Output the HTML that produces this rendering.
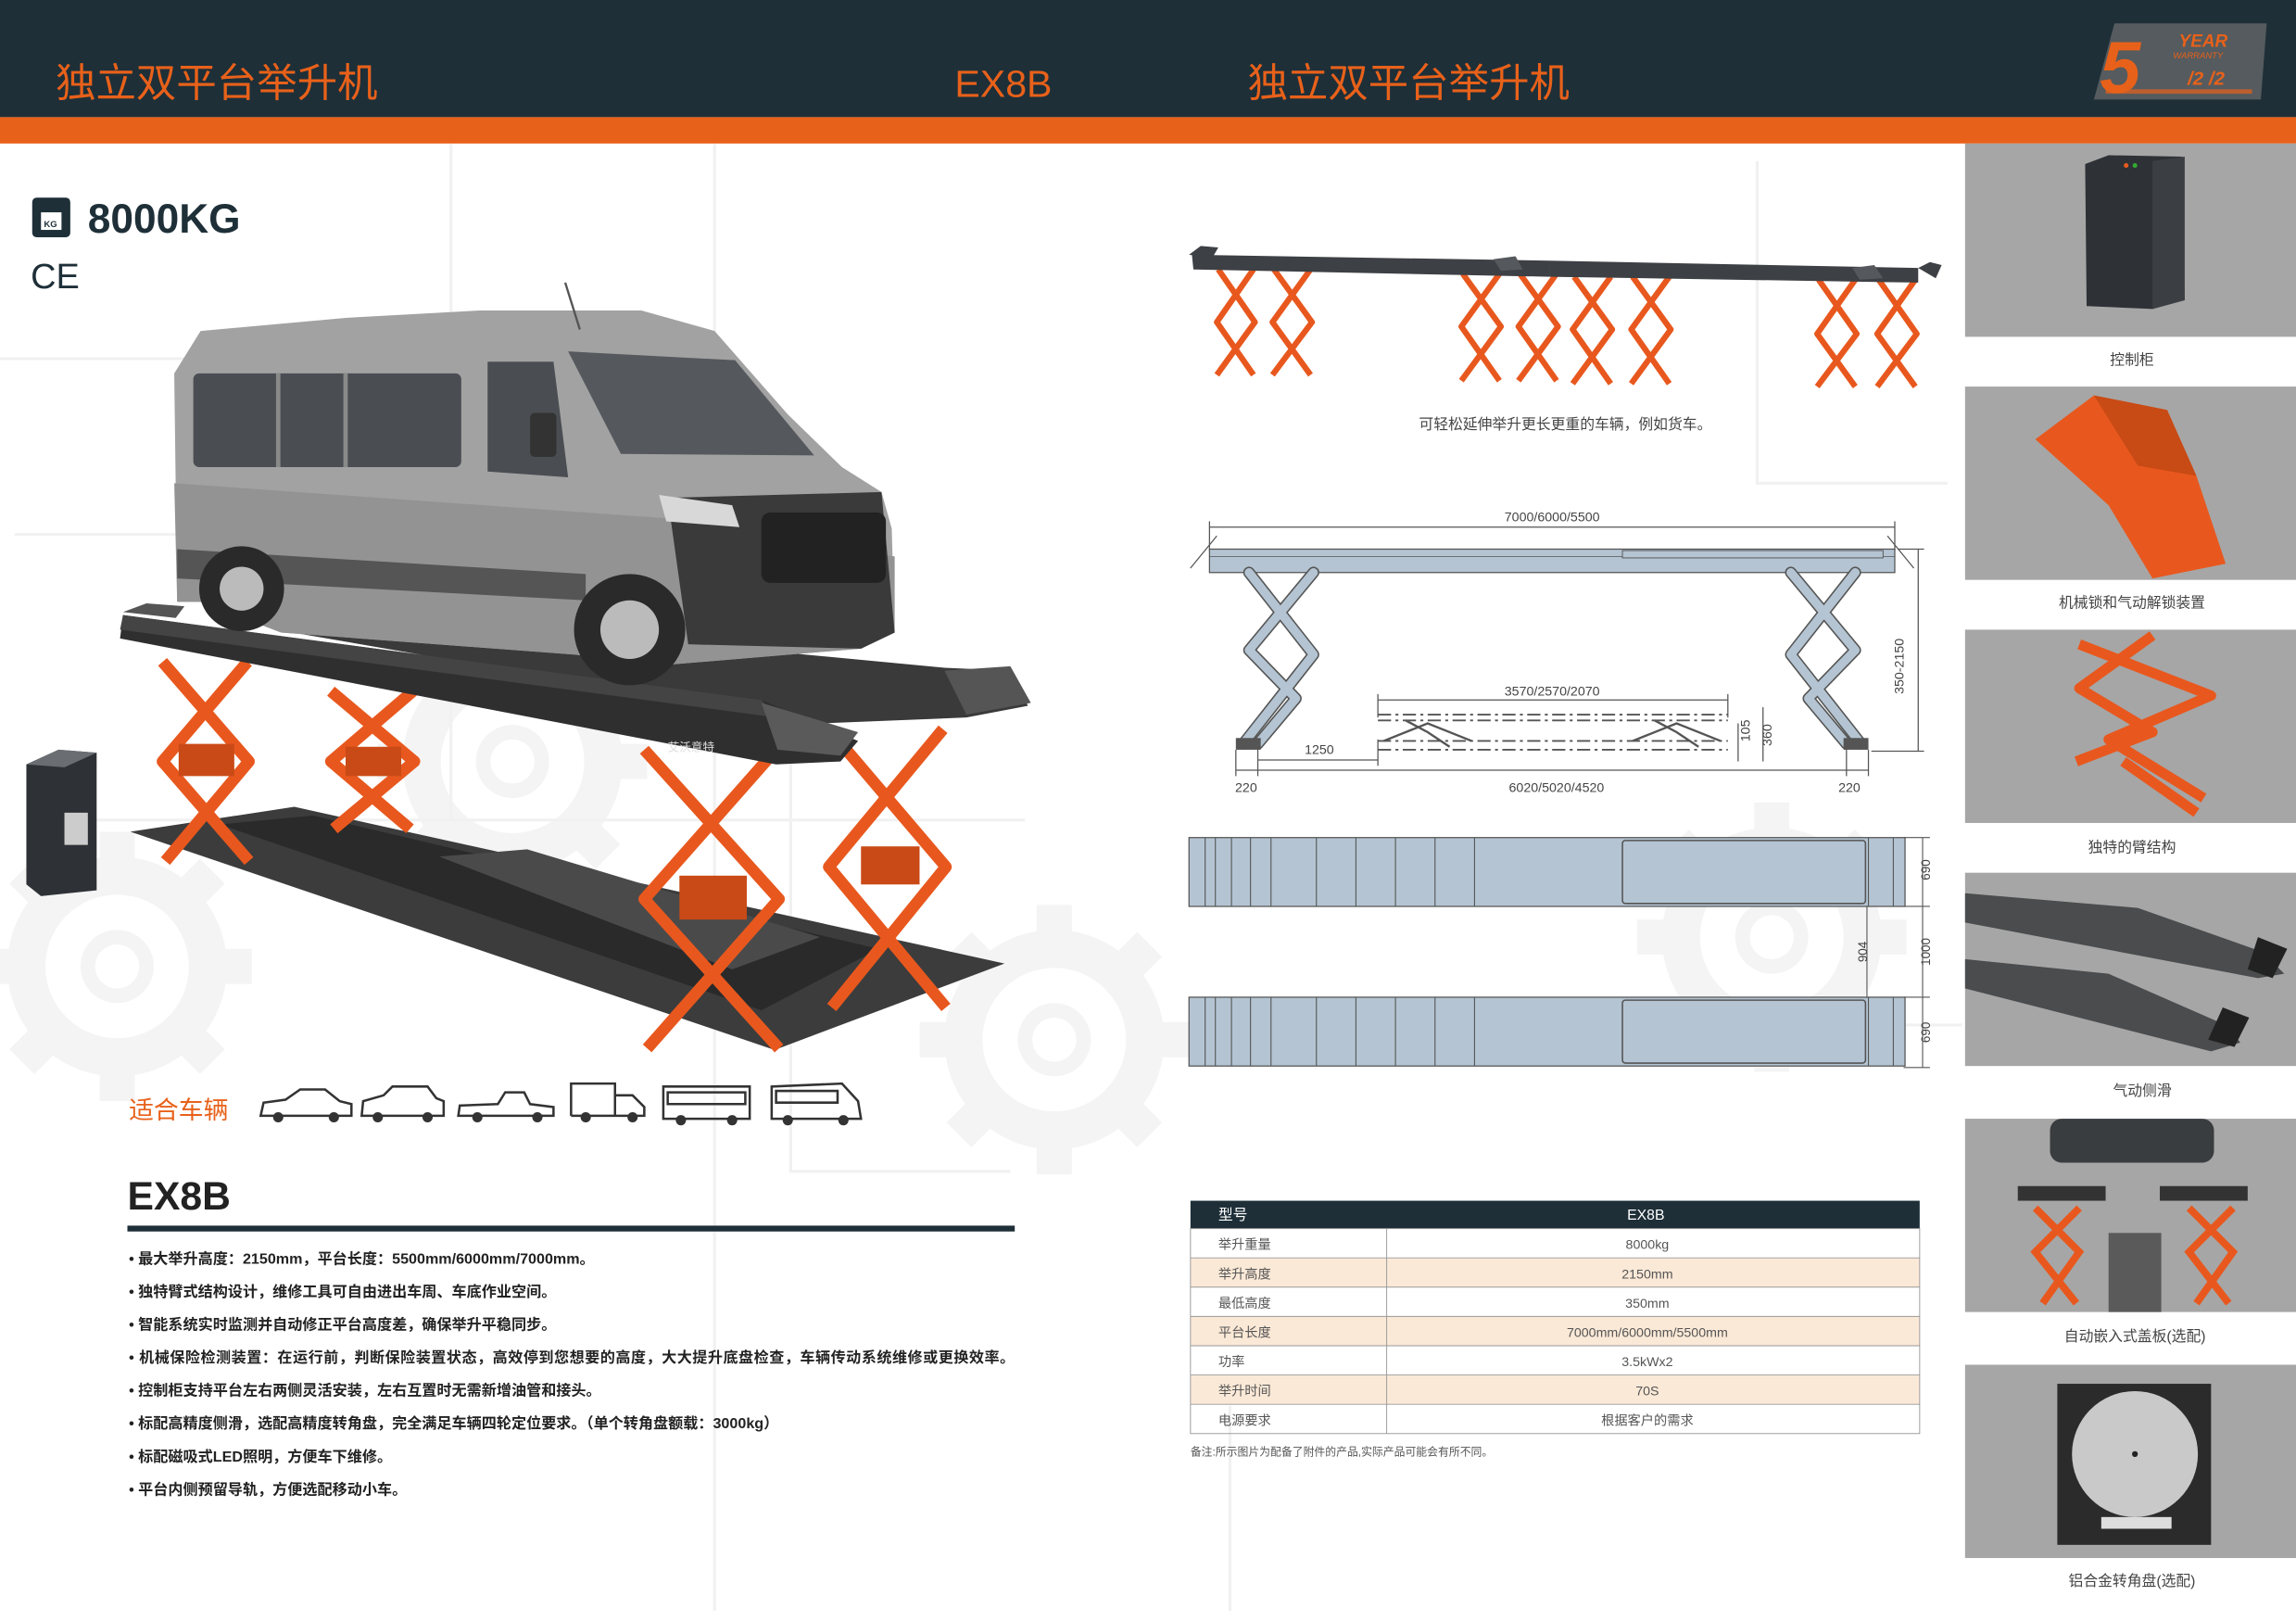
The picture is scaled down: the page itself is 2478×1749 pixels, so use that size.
<!DOCTYPE html>
<html><head><meta charset="utf-8">
<style>
html,body{margin:0;padding:0;background:#fff;}
svg{display:block;}
text{font-family:"Liberation Sans","Noto Sans CJK SC",sans-serif;}
</style></head>
<body>
<svg width="2478" height="1749" viewBox="0 0 1568 1107" preserveAspectRatio="none" xmlns="http://www.w3.org/2000/svg">
<defs>
<g id="gear">
<circle r="62" fill="none" stroke="#f4f4f4" stroke-width="26"/>
<g fill="#f4f4f4">
<rect x="-12" y="-92" width="24" height="26"/><rect x="-12" y="66" width="24" height="26"/>
<rect x="-92" y="-12" width="26" height="24"/><rect x="66" y="-12" width="26" height="24"/>
<rect x="-12" y="-92" width="24" height="26" transform="rotate(45)"/><rect x="-12" y="66" width="24" height="26" transform="rotate(45)"/>
<rect x="-92" y="-12" width="26" height="24" transform="rotate(45)"/><rect x="66" y="-12" width="26" height="24" transform="rotate(45)"/>
</g>
<circle r="20" fill="none" stroke="#f4f4f4" stroke-width="10"/>
</g>
</defs>

<rect width="1568" height="1107" fill="#fff"/>
<use href="#gear" x="80" y="660"/>
<use href="#gear" x="720" y="710"/>
<use href="#gear" x="1210" y="640"/>
<use href="#gear" x="350" y="520"/>
<g stroke="#f1f1f1" stroke-width="2" fill="none">
<path d="M0 245 H140 M10 365 H560 M20 560 H700 M308 98 V560 M488 98 V1100 M540 500 V800 H690 M840 960 V1100 M1080 700 H1340 M1200 110 V330 H1330"/>
</g>

<!-- header -->
<rect x="0" y="0" width="1568" height="80" fill="#1e2f38"/>
<rect x="0" y="80" width="1568" height="18" fill="#e8611a"/>
<text x="38" y="66" font-size="27.5" fill="#e8611a">独立双平台举升机</text>
<text x="652" y="66" font-size="26" fill="#e8611a">EX8B</text>
<text x="852" y="66" font-size="27.5" fill="#e8611a">独立双平台举升机</text>
<polygon points="1444,16 1548,16 1544,68 1430,68" fill="#555b5e"/>
<text x="1434" y="63" font-size="50" font-weight="bold" font-style="italic" fill="#e8611a">5</text>
<text x="1488" y="32" font-size="12" font-weight="bold" font-style="italic" fill="#e8611a">YEAR</text>
<text x="1484" y="40" font-size="6" font-style="italic" fill="#e8611a">WARRANTY</text>
<text x="1494" y="58" font-size="13" font-weight="bold" font-style="italic" fill="#e8611a">/2 /2</text>
<rect x="1438" y="61" width="100" height="3" fill="#e8611a" opacity="0.7"/>

<!-- 8000KG -->
<rect x="22" y="135" width="26" height="27" rx="3" fill="#1e2f38"/>
<rect x="28" y="145" width="14" height="12" fill="#fff"/>
<text x="30" y="155" font-size="6" fill="#1e2f38" font-weight="bold">KG</text>
<text x="60" y="159" font-size="28" font-weight="bold" fill="#1e2f38">8000KG</text>
<text x="21" y="197" font-size="24" fill="#1e2f38">CE</text>

<!-- floor pits -->
<polygon points="89,568 201,551 686,658 529,717" fill="#3c3c3c"/>
<polygon points="150,563 214,557 600,648 520,690" fill="#2a2a2a"/>
<polygon points="300,585 360,580 560,640 500,662" fill="#4a4a4a"/>

<!-- far platform -->
<polygon points="200,414 645,456 690,458 702,482 660,490 560,494 200,432" fill="#3a3a3a"/>
<polygon points="645,458 690,455 704,480 660,488" fill="#555"/>
<g fill="none" stroke="#e8581e" stroke-width="8" stroke-linejoin="round">
<polyline points="226,472 283,520 228,566"/><polyline points="282,472 226,520 280,566"/>
<polyline points="566,498 646,592 568,688"/><polyline points="644,498 566,592 646,688"/>
<polyline points="111,452 170,520 113,588"/><polyline points="169,452 111,520 170,588"/>
<polyline points="440,512 532,614 442,716"/><polyline points="530,512 440,614 532,716"/>
</g>
<g fill="#c94a16">
<rect x="236" y="510" width="38" height="20"/><rect x="588" y="578" width="40" height="26"/>
<rect x="122" y="508" width="38" height="22"/><rect x="464" y="598" width="46" height="30"/>
</g>
<polygon points="84,420 520,478 586,506 574,520 530,522 82,436" fill="#2f2f2f"/>
<polygon points="84,420 520,478 530,490 82,430" fill="#444"/>
<polygon points="520,480 586,500 574,516 531,512" fill="#5a5a5a"/>
<polygon points="84,418 100,412 126,414 120,422" fill="#555"/>
<text x="456" y="513" font-size="8" fill="#ddd">艾沃意特</text>

<!-- van -->
<polygon points="121,411 119,255 137,226 237,217 328,212 438,212 488,226 538,283 575,319 602,336 609,361 611,432 588,443 456,454 392,447 192,432 137,411" fill="#a2a2a2"/>
<polygon points="119,330 456,354 611,380 611,432 588,443 456,454 392,447 192,432 137,411 121,411" fill="#939393"/>
<rect x="132" y="255" width="183" height="64" rx="4" fill="#4a4e52"/>
<g stroke="#8a8a8a" stroke-width="3"><line x1="190" y1="255" x2="190" y2="319"/><line x1="236" y1="255" x2="236" y2="319"/></g>
<polygon points="333,247 378,247 388,326 333,322" fill="#4a4e52"/>
<polygon points="388,240 502,246 556,311 424,310" fill="#55595d"/>
<polygon points="456,340 602,336 611,432 588,443 470,440" fill="#3a3a3a"/>
<rect x="520" y="350" width="85" height="48" rx="6" fill="#222"/>
<polygon points="450,338 500,345 505,360 455,356" fill="#d8d8d8"/>
<polygon points="121,375 400,392 400,410 121,395" fill="#555"/>
<rect x="362" y="282" width="18" height="30" rx="3" fill="#333"/>
<line x1="386" y1="193" x2="396" y2="225" stroke="#555" stroke-width="1.5"/>
<circle cx="165" cy="402" r="29" fill="#2a2a2a"/><circle cx="165" cy="402" r="15" fill="#bbb"/>
<circle cx="430" cy="430" r="38" fill="#2a2a2a"/><circle cx="430" cy="430" r="20" fill="#bbb"/>

<!-- control cabinet -->
<polygon points="18,522 40,512 66,514 66,608 28,612 18,604" fill="#2e3236"/>
<polygon points="18,522 40,512 66,514 44,524" fill="#6a6e72"/>
<rect x="44" y="555" width="16" height="22" fill="#ccc"/>

<text x="88" y="764" font-size="17" fill="#e8611a">适合车辆</text>
<g fill="none" stroke="#333" stroke-width="1.6">
<path d="M178 762 L180 753 L195 751 L205 744 L222 744 L232 752 L240 754 L240 762 Z"/>
<path d="M247 762 L248 752 L262 748 L268 742 L292 742 L298 750 L303 752 L303 762 Z"/>
<path d="M313 762 L314 755 L340 754 L345 746 L358 746 L362 754 L378 756 L378 762 Z"/>
<path d="M390 762 L390 740 L420 740 L420 762 M420 748 L432 748 L440 756 L440 762 L390 762"/>
<path d="M453 764 L453 742 L512 742 L512 764 Z M456 746 H509 V754 H456 Z"/>
<path d="M527 764 L527 742 L575 740 L586 752 L588 764 Z M530 745 H572 V753 H530 Z"/>
</g>
<g fill="#333">
<circle cx="190" cy="763" r="3.5"/><circle cx="228" cy="763" r="3.5"/>
<circle cx="258" cy="763" r="3.5"/><circle cx="292" cy="763" r="3.5"/>
<circle cx="326" cy="763" r="3.5"/><circle cx="367" cy="763" r="3.5"/>
<circle cx="400" cy="763" r="3.5"/><circle cx="432" cy="763" r="3.5"/>
<circle cx="465" cy="765" r="3.5"/><circle cx="500" cy="765" r="3.5"/>
<circle cx="538" cy="765" r="3.5"/><circle cx="576" cy="765" r="3.5"/>
</g>

<text x="87" y="826" font-size="27" font-weight="bold" fill="#222">EX8B</text>
<rect x="87" y="837" width="606" height="4" fill="#1e2f38"/>
<g font-size="10.2" fill="#222" font-weight="bold">
<text x="88" y="863">• 最大举升高度：2150mm，平台长度：5500mm/6000mm/7000mm。</text>
<text x="88" y="885.5">• 独特臂式结构设计，维修工具可自由进出车周、车底作业空间。</text>
<text x="88" y="908">• 智能系统实时监测并自动修正平台高度差，确保举升平稳同步。</text>
<text x="88" y="930.5" textLength="605">• 机械保险检测装置：在运行前，判断保险装置状态，高效停到您想要的高度，大大提升底盘检查，车辆传动系统维修或更换效率。</text>
<text x="88" y="953">• 控制柜支持平台左右两侧灵活安装，左右互置时无需新增油管和接头。</text>
<text x="88" y="975.5">• 标配高精度侧滑，选配高精度转角盘，完全满足车辆四轮定位要求。（单个转角盘额载：3000kg）</text>
<text x="88" y="998">• 标配磁吸式LED照明，方便车下维修。</text>
<text x="88" y="1020.5">• 平台内侧预留导轨，方便选配移动小车。</text>
</g>

<!-- top-right extension diagram -->
<g fill="none" stroke="#e8581e" stroke-width="4" stroke-linejoin="round">
<polyline points="832,184 857,220 831,256"/><polyline points="856,184 831,220 856,256"/>
<polyline points="870,184 896,220 869,256"/><polyline points="895,184 869,220 895,256"/>
<polyline points="999,187 1025,223 998,260"/><polyline points="1024,187 998,223 1024,260"/>
<polyline points="1038,187 1064,223 1037,260"/><polyline points="1063,187 1037,223 1063,260"/>
<polyline points="1075,189 1101,225 1074,262"/><polyline points="1100,189 1074,225 1100,262"/>
<polyline points="1115,189 1141,225 1114,262"/><polyline points="1140,189 1114,225 1140,262"/>
<polyline points="1242,191 1268,228 1241,264"/><polyline points="1267,191 1241,228 1267,264"/>
<polyline points="1283,191 1309,228 1282,264"/><polyline points="1308,191 1282,228 1308,264"/>
</g>
<polygon points="814,174 1058,178 1058,189 815,184" fill="#3d4044"/>
<polygon points="1058,178 1310,183 1310,193 1058,189" fill="#3d4044"/>
<polygon points="812,174 820,168 832,169 828,176" fill="#3d4044"/>
<polygon points="1310,183 1318,179 1326,181 1322,190" fill="#3d4044"/>
<polygon points="1020,177 1035,175 1040,184 1025,185" fill="#55595d"/>
<polygon points="1265,183 1280,181 1286,190 1270,191" fill="#55595d"/>
<text x="1069" y="293" font-size="10" fill="#444" text-anchor="middle">可轻松延伸举升更长更重的车辆，例如货车。</text>

<!-- side elevation -->
<g stroke="#555" stroke-width="0.8" fill="none">
<line x1="826" y1="360" x2="1294" y2="360"/>
<line x1="826" y1="356" x2="826" y2="376"/><line x1="1294" y1="356" x2="1294" y2="376"/>
<line x1="813" y1="388" x2="831" y2="366"/><line x1="1307" y1="388" x2="1289" y2="366"/>
</g>
<text x="1060" y="356" font-size="9" fill="#444" text-anchor="middle">7000/6000/5500</text>
<rect x="826" y="375" width="468" height="16" fill="#b4c4d2" stroke="#555" stroke-width="0.8"/>
<line x1="826" y1="380" x2="1294" y2="380" stroke="#555" stroke-width="0.5"/>
<rect x="1108" y="376" width="178" height="5" fill="#b4c4d2" stroke="#555" stroke-width="0.6"/>
<g fill="none" stroke-linejoin="round" stroke-linecap="round">
<g stroke="#555" stroke-width="8">
<polyline points="853,391 897,447 849,508"/><polyline points="897,391 853,444 885,477 859,508"/>
<polyline points="1267,391 1223,447 1271,508"/><polyline points="1223,391 1267,444 1235,477 1261,508"/>
</g>
<g stroke="#b4c4d2" stroke-width="6">
<polyline points="853,391 897,447 849,508"/><polyline points="897,391 853,444 885,477 859,508"/>
<polyline points="1267,391 1223,447 1271,508"/><polyline points="1223,391 1267,444 1235,477 1261,508"/>
</g>
</g>
<rect x="844" y="504" width="17" height="8" fill="#555"/>
<rect x="1259" y="504" width="17" height="8" fill="#555"/>
<g stroke="#555" stroke-width="0.8" fill="none">
<line x1="1310" y1="375" x2="1310" y2="513"/>
<line x1="1296" y1="375" x2="1314" y2="375"/><line x1="1278" y1="513" x2="1314" y2="513"/>
<line x1="941" y1="478" x2="1180" y2="478"/>
<line x1="941" y1="474" x2="941" y2="490"/><line x1="1180" y1="474" x2="1180" y2="490"/>
<line x1="859" y1="519" x2="941" y2="519"/><line x1="941" y1="505" x2="941" y2="523"/>
<line x1="844" y1="526" x2="1276" y2="526"/>
<line x1="844" y1="512" x2="844" y2="530"/><line x1="859" y1="512" x2="859" y2="530"/>
<line x1="1261" y1="512" x2="1261" y2="530"/><line x1="1276" y1="512" x2="1276" y2="530"/>
<line x1="1187" y1="494" x2="1187" y2="520"/><line x1="1204" y1="483" x2="1204" y2="520"/>
</g>
<g stroke="#555" stroke-width="1.2" stroke-dasharray="9 3 2 3" fill="none">
<line x1="941" y1="488" x2="1180" y2="488"/><line x1="941" y1="492" x2="1180" y2="492"/>
<line x1="941" y1="506" x2="1180" y2="506"/><line x1="941" y1="512" x2="1180" y2="512"/>
</g>
<g stroke="#555" stroke-width="1.5" fill="none">
<polyline points="945,506 975,494 1005,506"/><polyline points="960,492 975,500 990,510"/>
<polyline points="1115,506 1145,494 1175,506"/><polyline points="1130,492 1145,500 1160,510"/>
</g>
<text x="1060" y="475" font-size="9" fill="#444" text-anchor="middle">3570/2570/2070</text>
<text x="901" y="515" font-size="9" fill="#444" text-anchor="middle">1250</text>
<text x="851" y="541" font-size="9" fill="#444" text-anchor="middle">220</text>
<text x="1063" y="541" font-size="9" fill="#444" text-anchor="middle">6020/5020/4520</text>
<text x="1263" y="541" font-size="9" fill="#444" text-anchor="middle">220</text>
<text transform="translate(1300,455) rotate(-90)" font-size="9" fill="#444" text-anchor="middle">350-2150</text>
<text transform="translate(1195,499) rotate(-90)" font-size="9" fill="#444" text-anchor="middle">105</text>
<text transform="translate(1210,502) rotate(-90)" font-size="9" fill="#444" text-anchor="middle">360</text>

<!-- top views -->
<g id="tv">
<rect x="812" y="572" width="489" height="47" fill="#b4c4d2" stroke="#555" stroke-width="0.8"/>
<g stroke="#555" stroke-width="0.7">
<line x1="823" y1="572" x2="823" y2="619"/><line x1="830" y1="572" x2="830" y2="619"/>
<line x1="841" y1="572" x2="841" y2="619"/><line x1="854" y1="572" x2="854" y2="619"/>
<line x1="868" y1="572" x2="868" y2="619"/><line x1="899" y1="572" x2="899" y2="619"/>
<line x1="926" y1="572" x2="926" y2="619"/><line x1="953" y1="572" x2="953" y2="619"/>
<line x1="980" y1="572" x2="980" y2="619"/><line x1="1007" y1="572" x2="1007" y2="619"/>
<line x1="1276" y1="572" x2="1276" y2="619"/><line x1="1293" y1="572" x2="1293" y2="619"/>
</g>
<rect x="1108" y="574" width="166" height="43" rx="2" fill="none" stroke="#555" stroke-width="1"/>
</g>
<use href="#tv" y="109"/>
<g stroke="#555" stroke-width="0.7" fill="none">
<line x1="1313" y1="572" x2="1313" y2="729"/>
<line x1="1275" y1="619" x2="1275" y2="681"/>
<line x1="1300" y1="572" x2="1318" y2="572"/><line x1="1300" y1="619" x2="1318" y2="619"/>
<line x1="1300" y1="681" x2="1318" y2="681"/><line x1="1300" y1="729" x2="1318" y2="729"/>
</g>
<text transform="translate(1318,594) rotate(-90)" font-size="8.5" fill="#444" text-anchor="middle">690</text>
<text transform="translate(1318,650) rotate(-90)" font-size="8.5" fill="#444" text-anchor="middle">1000</text>
<text transform="translate(1318,705) rotate(-90)" font-size="8.5" fill="#444" text-anchor="middle">690</text>
<text transform="translate(1275,650) rotate(-90)" font-size="8.5" fill="#444" text-anchor="middle">904</text>

<!-- table -->
<rect x="813" y="820" width="498" height="19" fill="#1e2f38"/>
<g fill="#fbe9d7">
<rect x="813" y="859" width="498" height="20"/><rect x="813" y="899" width="498" height="20"/><rect x="813" y="939" width="498" height="20"/>
</g>
<g stroke="#999" stroke-width="0.6" fill="none">
<rect x="813" y="839" width="498" height="140"/>
<line x1="813" y1="859" x2="1311" y2="859"/><line x1="813" y1="879" x2="1311" y2="879"/>
<line x1="813" y1="899" x2="1311" y2="899"/><line x1="813" y1="919" x2="1311" y2="919"/>
<line x1="813" y1="939" x2="1311" y2="939"/><line x1="813" y1="959" x2="1311" y2="959"/>
<line x1="947" y1="839" x2="947" y2="979"/>
</g>
<text x="832" y="833" font-size="10" fill="#fff">型号</text>
<text x="1124" y="833" font-size="10" fill="#fff" text-anchor="middle">EX8B</text>
<g font-size="9" fill="#555">
<text x="832" y="853">举升重量</text><text x="832" y="873">举升高度</text><text x="832" y="893">最低高度</text>
<text x="832" y="913">平台长度</text><text x="832" y="933">功率</text><text x="832" y="953">举升时间</text><text x="832" y="973">电源要求</text>
</g>
<g font-size="9" fill="#555" text-anchor="middle">
<text x="1125" y="853">8000kg</text><text x="1125" y="873">2150mm</text><text x="1125" y="893">350mm</text>
<text x="1125" y="913">7000mm/6000mm/5500mm</text><text x="1125" y="933">3.5kWx2</text><text x="1125" y="953">70S</text><text x="1125" y="973">根据客户的需求</text>
</g>
<text x="813" y="994" font-size="7.5" fill="#555">备注:所示图片为配备了附件的产品,实际产品可能会有所不同。</text>

<!-- right column -->
<g fill="#a6a6a6">
<rect x="1342" y="98" width="226" height="132"/><rect x="1342" y="264" width="226" height="132"/>
<rect x="1342" y="430" width="226" height="132"/><rect x="1342" y="596" width="226" height="132"/>
<rect x="1342" y="764" width="226" height="132"/><rect x="1342" y="932" width="226" height="132"/>
</g>
<polygon points="1424,112 1440,106 1490,107 1492,205 1470,211 1425,209" fill="#2e3236"/>
<polygon points="1470,110 1492,107 1492,205 1470,211" fill="#3b3f43"/>
<circle cx="1452" cy="113" r="1.6" fill="#e85a1e"/><circle cx="1458" cy="113" r="1.6" fill="#3a3"/>
<polygon points="1390,300 1430,270 1480,280 1500,325 1520,385 1470,395 1440,345" fill="#e8581e"/>
<polygon points="1430,270 1480,280 1500,325 1460,318" fill="#c84a14"/>
<g fill="none" stroke="#e8581e" stroke-width="7" stroke-linejoin="round">
<polyline points="1420,440 1510,475 1440,505 1505,545"/><polyline points="1470,434 1420,470 1470,500 1418,520"/>
<line x1="1450" y1="520" x2="1500" y2="555"/>
</g>
<polygon points="1342,610 1460,620 1545,650 1560,665 1542,668 1342,630" fill="#4a4c4e"/>
<polygon points="1342,655 1440,665 1520,700 1530,712 1510,718 1342,675" fill="#4a4c4e"/>
<polygon points="1542,640 1562,648 1552,668 1535,662" fill="#222"/>
<polygon points="1518,688 1536,695 1526,715 1508,710" fill="#222"/>
<rect x="1400" y="764" width="112" height="30" rx="8" fill="#3a3d40"/>
<rect x="1378" y="810" width="60" height="10" fill="#333"/>
<rect x="1475" y="810" width="60" height="10" fill="#333"/>
<g fill="none" stroke="#e8581e" stroke-width="5">
<polyline points="1390,825 1420,855 1395,890"/><polyline points="1420,825 1390,855 1418,890"/>
<polyline points="1495,825 1525,855 1500,890"/><polyline points="1525,825 1495,855 1522,890"/>
</g>
<rect x="1440" y="842" width="36" height="54" fill="#5a5a5a"/>
<rect x="1405" y="945" width="105" height="110" fill="#2b2b2b"/>
<circle cx="1458" cy="993" r="43" fill="#c9c9c9"/>
<circle cx="1458" cy="993" r="2" fill="#222"/>
<rect x="1435" y="1036" width="48" height="8" fill="#ddd"/>
<g font-size="10" fill="#444" text-anchor="middle">
<text x="1456" y="249">控制柜</text>
<text x="1456" y="415">机械锁和气动解锁装置</text>
<text x="1456" y="582">独特的臂结构</text>
<text x="1463" y="748">气动侧滑</text>
<text x="1458" y="916">自动嵌入式盖板(选配)</text>
<text x="1456" y="1083">铝合金转角盘(选配)</text>
</g>
</svg>
</body></html>
